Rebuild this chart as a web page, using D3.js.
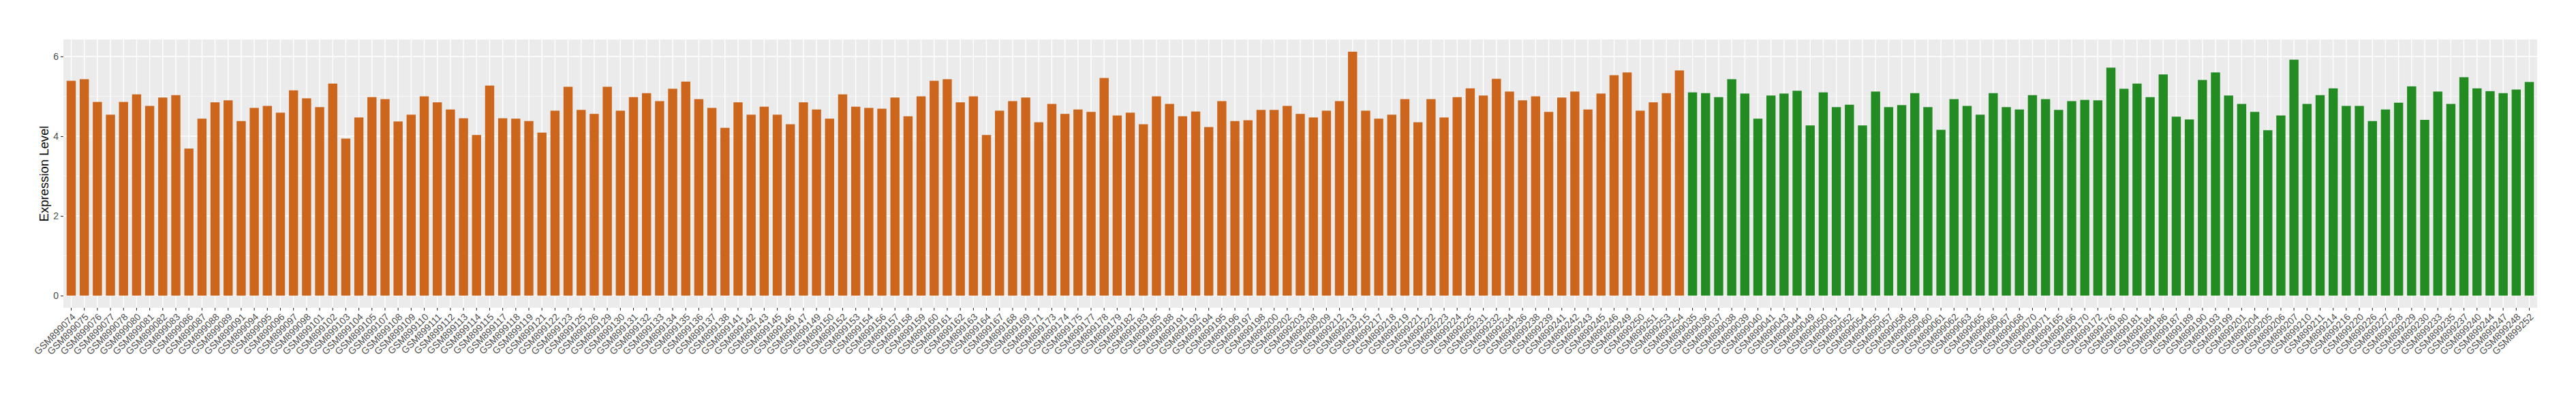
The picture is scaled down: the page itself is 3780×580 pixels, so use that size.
<!DOCTYPE html>
<html>
<head>
<meta charset="utf-8">
<script src="https://cdn.jsdelivr.net/npm/d3@7"></script>
<style>
  body { margin: 0; background: #fff; }
  svg { display: block; font-family: "Liberation Sans", Arial, sans-serif; }
</style>
</head>
<body>
<svg id="chart"></svg>
<script>
// group 1 (orange) samples and expression values
var orangeSamples = ["GSM899074","GSM899075","GSM899076","GSM899077","GSM899078","GSM899080","GSM899081","GSM899082","GSM899083","GSM899086",
  "GSM899087","GSM899088","GSM899089","GSM899091","GSM899094","GSM899095","GSM899096","GSM899097","GSM899098","GSM899101",
  "GSM899102","GSM899103","GSM899104","GSM899105","GSM899107","GSM899108","GSM899109","GSM899110","GSM899111","GSM899112",
  "GSM899113","GSM899114","GSM899115","GSM899117","GSM899118","GSM899119","GSM899121","GSM899122","GSM899123","GSM899125",
  "GSM899126","GSM899129","GSM899130","GSM899131","GSM899132","GSM899133","GSM899134","GSM899135","GSM899136","GSM899137",
  "GSM899138","GSM899141","GSM899142","GSM899143","GSM899145","GSM899146","GSM899147","GSM899149","GSM899150","GSM899152",
  "GSM899153","GSM899154","GSM899156","GSM899157","GSM899158","GSM899159","GSM899160","GSM899161","GSM899162","GSM899163",
  "GSM899164","GSM899167","GSM899168","GSM899169","GSM899171","GSM899173","GSM899174","GSM899175","GSM899177","GSM899178",
  "GSM899179","GSM899182","GSM899183","GSM899185","GSM899188","GSM899191","GSM899192","GSM899194","GSM899195","GSM899196",
  "GSM899197","GSM899198","GSM899200","GSM899202","GSM899203","GSM899208","GSM899209","GSM899212","GSM899213","GSM899215",
  "GSM899217","GSM899218","GSM899219","GSM899221","GSM899222","GSM899223","GSM899224","GSM899225","GSM899231","GSM899232",
  "GSM899234","GSM899236","GSM899238","GSM899239","GSM899241","GSM899242","GSM899243","GSM899245","GSM899246","GSM899249",
  "GSM899250","GSM899251","GSM899253","GSM899254"];
var orangeValues = [5.39,5.43,4.86,4.54,4.86,5.05,4.76,4.97,5.03,3.69,
  4.44,4.85,4.90,4.38,4.71,4.76,4.59,5.15,4.95,4.73,
  5.32,3.94,4.47,4.98,4.93,4.37,4.54,5.00,4.85,4.67,
  4.45,4.03,5.27,4.45,4.44,4.38,4.09,4.64,5.24,4.66,
  4.56,5.24,4.64,4.98,5.08,4.88,5.19,5.37,4.93,4.71,
  4.21,4.85,4.54,4.74,4.54,4.30,4.85,4.67,4.44,5.05,
  4.74,4.71,4.69,4.97,4.50,5.00,5.39,5.43,4.85,5.00,
  4.03,4.64,4.88,4.97,4.35,4.81,4.56,4.67,4.61,5.46,
  4.52,4.59,4.30,5.00,4.81,4.50,4.62,4.23,4.88,4.38,
  4.40,4.66,4.66,4.76,4.56,4.47,4.64,4.88,6.12,4.64,
  4.44,4.54,4.93,4.35,4.93,4.47,4.98,5.20,5.02,5.44,
  5.12,4.90,5.00,4.61,4.97,5.12,4.67,5.07,5.53,5.60,
  4.64,4.85,5.08,5.65];

// group 2 (green) samples and expression values
var greenSamples = ["GSM899035","GSM899036","GSM899037","GSM899038","GSM899039","GSM899040","GSM899041","GSM899043","GSM899044","GSM899049",
  "GSM899050","GSM899051","GSM899052","GSM899054","GSM899055","GSM899057","GSM899058","GSM899059","GSM899060","GSM899061",
  "GSM899062","GSM899063","GSM899065","GSM899066","GSM899067","GSM899068","GSM899070","GSM899071","GSM899165","GSM899166",
  "GSM899170","GSM899172","GSM899176","GSM899180","GSM899181","GSM899184","GSM899186","GSM899187","GSM899189","GSM899190",
  "GSM899193","GSM899199","GSM899201","GSM899204","GSM899205","GSM899206","GSM899207","GSM899210","GSM899211","GSM899214",
  "GSM899216","GSM899220","GSM899226","GSM899227","GSM899228","GSM899229","GSM899230","GSM899233","GSM899235","GSM899237",
  "GSM899240","GSM899244","GSM899247","GSM899248","GSM899252"];
var greenValues = [5.10,5.08,4.98,5.43,5.07,4.44,5.02,5.07,5.14,4.27,
  5.10,4.73,4.79,4.27,5.12,4.73,4.78,5.08,4.73,4.16,
  4.93,4.76,4.54,5.08,4.73,4.67,5.03,4.93,4.66,4.88,
  4.91,4.90,5.72,5.19,5.32,4.98,5.55,4.49,4.42,5.41,
  5.60,5.02,4.81,4.61,4.15,4.52,5.92,4.81,5.03,5.20,
  4.76,4.76,4.38,4.67,4.84,5.25,4.41,5.12,4.81,5.48,
  5.20,5.13,5.08,5.17,5.36];

var yTicks = [0, 2, 4, 6];
var yMinor = [1, 3, 5];
var yTitle = "Expression Level";

var width = 3780, height = 580;
var margin = {top: 58, right: 57, bottom: 128, left: 93};
var innerW = width - margin.left - margin.right;
var innerH = height - margin.top - margin.bottom;

var rows = orangeSamples.map(function (s, i) { return {sample: s, value: orangeValues[i], color: "#CD661D"}; })
  .concat(greenSamples.map(function (s, i) { return {sample: s, value: greenValues[i], color: "#228B22"}; }));

var svg = d3.select("#chart").attr("width", width).attr("height", height);
var g = svg.append("g").attr("transform", "translate(" + margin.left + "," + margin.top + ")");

var x = d3.scaleBand()
  .domain(rows.map(function (d) { return d.sample; }))
  .range([0, innerW])
  .paddingInner(0.3)
  .paddingOuter(0.25);

var yMax = d3.max(rows, function (d) { return d.value; });
var y = d3.scaleLinear()
  .domain([-0.05 * yMax, yMax * 1.05])
  .range([innerH, 0]);

// panel background
g.append("rect").attr("width", innerW).attr("height", innerH).attr("fill", "#EBEBEB");

// grid
g.selectAll(".minor").data(yMinor).enter().append("line")
  .attr("x1", 0).attr("x2", innerW)
  .attr("y1", function (d) { return y(d); }).attr("y2", function (d) { return y(d); })
  .attr("stroke", "#fff").attr("stroke-width", 0.7);
g.selectAll(".major").data(yTicks).enter().append("line")
  .attr("x1", 0).attr("x2", innerW)
  .attr("y1", function (d) { return y(d); }).attr("y2", function (d) { return y(d); })
  .attr("stroke", "#fff").attr("stroke-width", 1.4);
g.selectAll(".vgrid").data(rows).enter().append("line")
  .attr("x1", function (d) { return x(d.sample) + x.bandwidth() / 2; })
  .attr("x2", function (d) { return x(d.sample) + x.bandwidth() / 2; })
  .attr("y1", 0).attr("y2", innerH)
  .attr("stroke", "#fff").attr("stroke-width", 1.4);

// bars
g.selectAll(".bar").data(rows).enter().append("rect")
  .attr("x", function (d) { return x(d.sample); })
  .attr("width", x.bandwidth())
  .attr("y", function (d) { return y(d.value); })
  .attr("height", function (d) { return y(0) - y(d.value); })
  .attr("fill", function (d) { return d.color; });

// y axis
var yAxis = g.append("g")
  .call(d3.axisLeft(y).tickValues(yTicks).tickSize(4).tickPadding(3).tickFormat(d3.format("d")));
yAxis.select(".domain").remove();
yAxis.selectAll("line").attr("stroke", "#333").attr("stroke-width", 1.1);
yAxis.selectAll("text").attr("fill", "#4D4D4D").style("font-size", "14px");

// x axis
var xAxis = g.append("g").attr("transform", "translate(0," + innerH + ")")
  .call(d3.axisBottom(x).tickSize(4).tickPadding(0));
xAxis.select(".domain").remove();
xAxis.selectAll("line").attr("stroke", "#333").attr("stroke-width", 1.1);
xAxis.selectAll("text")
  .attr("fill", "#4D4D4D")
  .style("font-size", "14px")
  .attr("text-anchor", "end")
  .attr("y", 0).attr("dy", "0.72em")
  .attr("transform", "translate(0,7) rotate(-45)");

// y title
svg.append("text")
  .attr("transform", "translate(" + 71 + "," + (margin.top + innerH / 2) + ") rotate(-90)")
  .attr("text-anchor", "middle")
  .style("font-size", "18.5px")
  .attr("fill", "#000")
  .text(yTitle);
</script>
</body>
</html>
